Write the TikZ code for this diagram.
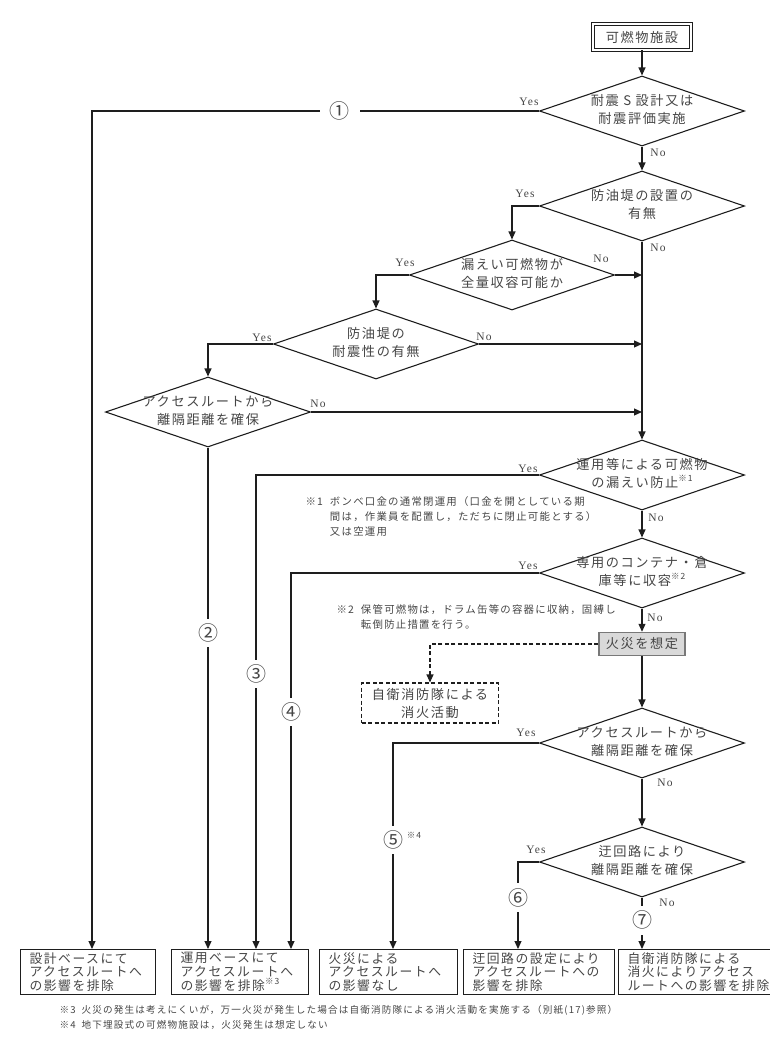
\documentclass[tikz,border=0pt]{standalone}
\usepackage{fontspec}
\usetikzlibrary{shapes.geometric,arrows.meta}

\newfontfamily\jpfont[LetterSpace=12]{Noto Sans CJK JP}
\newfontfamily\numfont{Noto Sans CJK JP}
\newfontfamily\ynfont[LetterSpace=10]{Liberation Serif}

\definecolor{txt}{HTML}{454545}
\definecolor{ln}{HTML}{1E1E1E}
\definecolor{firefill}{HTML}{D9D9D9}

\newcommand*{\dlines}[1]{\makebox[0pt]{\begin{tabular}{@{}c@{}}#1\end{tabular}}}
\newcommand*{\sups}[1]{\raisebox{0.5em}{\fontsize{8.5}{9}\selectfont #1}}

\begin{document}
\begin{tikzpicture}
[
	x=1pt, y=-1pt,
	line width=1.1pt,
	arr/.style={draw=ln,-{Triangle[length=8pt,width=7pt]}},
	dasharr/.style={arr,dash pattern=on 4pt off 2.5pt},
	startbox/.style={draw=ln,double,double distance=1.4pt,line width=0.9pt,minimum width=98pt,minimum height=26pt,inner sep=0pt,text=txt,font=\jpfont\fontsize{13.2}{18}\selectfont},
	decision/.style={diamond,draw=ln,minimum width=205pt,minimum height=70pt,inner sep=0pt,text=txt,font=\jpfont\fontsize{13.2}{18}\selectfont},
	firebox/.style={draw=ln!60,fill=firefill,line width=1.5pt,minimum width=86pt,minimum height=23pt,inner sep=0pt,text=txt,font=\jpfont\fontsize{13.2}{18}\selectfont},
	extbox/.style={draw=ln,dash pattern=on 4pt off 2.5pt,minimum width=137pt,minimum height=40pt,inner sep=0pt,align=center,text=txt,font=\jpfont\fontsize{13.2}{18}\selectfont},
	endbox/.style={draw=ln,anchor=north west,minimum height=45pt,inner xsep=9pt,inner ysep=0pt,align=left,text=txt,font=\jpfont\fontsize{12.8}{13.8}\selectfont},
	num/.style={fill=white,inner xsep=10pt,inner ysep=5pt,text=txt,font=\numfont\fontsize{20}{20}\selectfont},
	yn/.style={inner sep=0pt,text=txt,font=\ynfont\fontsize{11.5}{12}\selectfont},
	note/.style={anchor=north west,inner sep=0pt,text=txt,font=\jpfont\fontsize{10.4}{15}\selectfont},
]

	\useasboundingbox (0,0) rectangle (770,1044);
	\clip (0,0) rectangle (770,1044);

	% start
	\node[startbox] (start) at (642,37) {可燃物施設};

	% decisions
	\node[decision] (d1) at (642,111) {\dlines{耐震 S 設計又は\\耐震評価実施}};
	\node[decision] (d2) at (642,206) {\dlines{防油堤の設置の\\有無}};
	\node[decision] (d3) at (512,275) {\dlines{漏えい可燃物が\\全量収容可能か}};
	\node[decision] (d4) at (376,344) {\dlines{防油堤の\\耐震性の有無}};
	\node[decision] (d5) at (208,412) {\dlines{アクセスルートから\\離隔距離を確保}};
	\node[decision] (d6) at (642,475) {\dlines{運用等による可燃物\\の漏えい防止\sups{※1}}};
	\node[decision] (d7) at (642,573) {\dlines{専用のコンテナ・倉\\庫等に収容\sups{※2}}};
	\node[firebox] (fire) at (642,644) {火災を想定};
	\node[extbox] (ext) at (430,703) {自衛消防隊による\\消火活動};
	\node[decision] (d8) at (642,743) {\dlines{アクセスルートから\\離隔距離を確保}};
	\node[decision] (d9) at (642,862) {\dlines{迂回路により\\離隔距離を確保}};

	% results
	\node[endbox,text width=117pt] (b1) at (20,949) {設計ベースにて\\アクセスルートへ\\の影響を排除};
	\node[endbox,text width=119pt] (b2) at (171,949) {運用ベースにて\\アクセスルートへ\\の影響を排除\sups{※3}};
	\node[endbox,text width=120pt] (b3) at (319,949) {火災による\\アクセスルートへ\\の影響なし};
	\node[endbox,text width=133pt] (b4) at (463,949) {迂回路の設定により\\アクセスルートへの\\影響を排除};
	\node[endbox,text width=150pt] (b5) at (618,949) {自衛消防隊による\\消火によりアクセス\\ルートへの影響を排除};

	% notes
	\node[note] (fn1) at (305,494) {\begin{tabular}{@{}l@{\hspace{7pt}}l@{}}※1 & ボンベ口金の通常閉運用（口金を開としている期\\ & 間は，作業員を配置し，ただちに閉止可能とする）\\ & 又は空運用\end{tabular}};
	\node[note] (fn2) at (336,602) {\begin{tabular}{@{}l@{\hspace{7pt}}l@{}}※2 & 保管可燃物は，ドラム缶等の容器に収納，固縛し\\ & 転倒防止措置を行う。\end{tabular}};
	\node[note,font=\jpfont\fontsize{9.6}{15}\selectfont] (fn3) at (59,1002) {\begin{tabular}{@{}l@{\hspace{6pt}}l@{}}※3 & 火災の発生は考えにくいが，万一火災が発生した場合は自衛消防隊による消火活動を実施する（別紙(17)参照）\\ ※4 & 地下埋設式の可燃物施設は，火災発生は想定しない\end{tabular}};

	% main line
	\draw[arr] (start) -- (d1);
	\draw[arr] (d1) -- (d2);
	\draw[arr] (d2) -- (d6);
	\draw[arr] (d6) -- (d7);
	\draw[arr] (d7) -- (fire);
	\draw[arr] (fire) -- (d8);
	\draw[arr] (d8) -- (d9);

	% back to the main line
	\draw[arr] (d3.east) -- (d3.east -| d2.south);
	\draw[arr] (d4.east) -- (d4.east -| d2.south);
	\draw[arr] (d5.east) -- (d5.east -| d2.south);

	% yes branches
	\draw[arr] (d2.west) -| (d3.north);
	\draw[arr] (d3.west) -| (d4.north);
	\draw[arr] (d4.west) -| (d5.north);

	% routes to the results
	\coordinate (c1) at (92,111);
	\coordinate (c3) at (256,475);
	\coordinate (c4) at (291,573);
	\coordinate (c5) at (393,743);
	\coordinate (c6) at (518,862);
	\draw[arr] (d1.west) -- node[num,pos=.446] (m1) {①} (c1) -- (c1 |- b1.north);
	\draw[arr] (d5.south) -- node[num,pos=.37] (m2) {②} (d5.south |- b2.north);
	\draw[arr] (d6.west) -- (c3) -- node[num,pos=.42] (m3) {③} (c3 |- b2.north);
	\draw[arr] (d7.west) -- (c4) -- node[num,pos=.37] (m4) {④} (c4 |- b2.north);
	\draw[arr] (d8.west) -- (c5) -- node[num,pos=.47] (m5) {⑤} (c5 |- b3.north);
	\node[note,anchor=center,font=\jpfont\fontsize{8.5}{9}\selectfont] (s4) at (414,835) {※4};
	\draw[arr] (d9.west) -- (c6) -- node[num,pos=.41] (m6) {⑥} (c6 |- b4.north);
	\draw[arr] (d9.south) -- node[num,pos=.44] (m7) {⑦} (d9.south |- b5.north);

	% fire fighting
	\draw[dasharr] (fire.west) -| (ext.north);

	% yes / no
	\node[yn] (y1) at (529,102) {Yes};
	\node[yn] (n1) at (658,153) {No};
	\node[yn] (y2) at (525,194) {Yes};
	\node[yn] (n2) at (658,248) {No};
	\node[yn] (y3) at (405,263) {Yes};
	\node[yn] (n3) at (601,259) {No};
	\node[yn] (y4) at (262,338) {Yes};
	\node[yn] (n4) at (484,337) {No};
	\node[yn] (n5) at (318,404) {No};
	\node[yn] (y6) at (528,469) {Yes};
	\node[yn] (n6) at (656,518) {No};
	\node[yn] (y7) at (528,566) {Yes};
	\node[yn] (n7) at (655,618) {No};
	\node[yn] (y8) at (526,733) {Yes};
	\node[yn] (n8) at (665,783) {No};
	\node[yn] (y9) at (536,850) {Yes};
	\node[yn] (n9) at (667,903) {No};

\end{tikzpicture}
\end{document}
